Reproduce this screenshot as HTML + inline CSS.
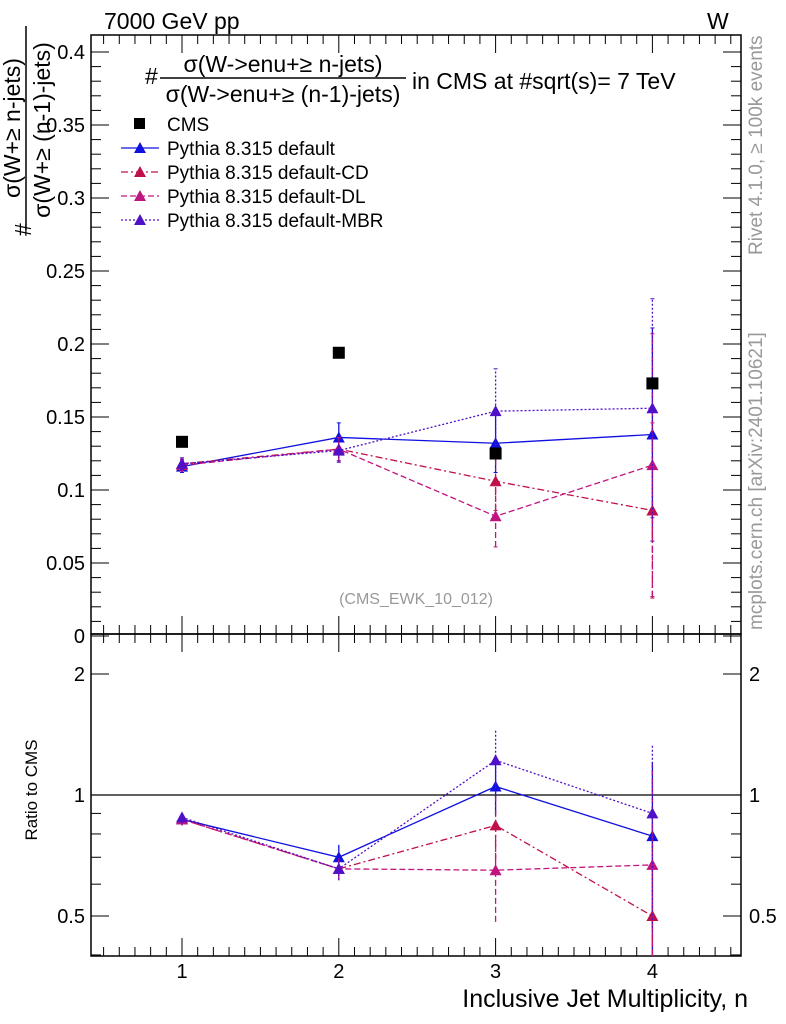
<!DOCTYPE html>
<html><head><meta charset="utf-8"><style>
body{margin:0;background:#fff}
svg{display:block;font-family:"Liberation Sans",sans-serif}
</style></head><body>
<svg id="c" width="786" height="1024" viewBox="0 0 786 1024">
<text x="104" y="29" font-size="23">7000 GeV pp</text>
<text x="707" y="29" font-size="23">W</text>
<text transform="translate(762,255) rotate(-90)" font-size="19" fill="#999">Rivet 4.1.0, ≥ 100k events</text>
<text transform="translate(762,630) rotate(-90)" font-size="19" fill="#999">mcplots.cern.ch [arXiv:2401.10621]</text>
<g font-size="23">
<text transform="translate(31,236) rotate(-90)">#</text>
<text transform="translate(20,128) rotate(-90)" text-anchor="middle">σ(W+≥ n-jets)</text>
<line x1="26" y1="26" x2="26" y2="230" stroke="#000" stroke-width="1.5"/>
<text transform="translate(50,130) rotate(-90)" text-anchor="middle">σ(W+≥ (n-1)-jets)</text>
</g>
<text transform="translate(37,790) rotate(-90)" font-size="17" text-anchor="middle">Ratio to CMS</text>
<text x="748" y="1007" font-size="25" text-anchor="end">Inclusive Jet Multiplicity, n</text>
<g font-size="23">
<text x="145" y="84">#</text>
<text x="283" y="72" text-anchor="middle">σ(W-&gt;enu+≥ n-jets)</text>
<line x1="160" y1="78" x2="406" y2="78" stroke="#000" stroke-width="1.5"/>
<text x="283" y="102" text-anchor="middle">σ(W-&gt;enu+≥ (n-1)-jets)</text>
<text x="412" y="89">in CMS at #sqrt(s)= 7 TeV</text>
</g>
<text x="416" y="604" font-size="16" fill="#999" text-anchor="middle">(CMS_EWK_10_012)</text>
<g id="g"></g>
</svg>
<script>
const cats=[1,2,3,4];
const cmsVals=[0.133,0.194,0.125,0.173];
const defVals=[0.116,0.136,0.132,0.138];
const defErr=[0.004,0.010,0.020,0.073];
const cdVals=[0.118,0.128,0.106,0.086];
const cdErr=[0.004,0.008,0.020,0.060];
const dlVals=[0.117,0.128,0.082,0.117];
const dlErr=[0.004,0.008,0.021,0.090];
const mbrVals=[0.118,0.127,0.154,0.156];
const mbrErr=[0.004,0.008,0.029,0.075];
const defRatio=[0.87,0.70,1.05,0.79];
const cdRatio=[0.87,0.655,0.84,0.50];
const dlRatio=[0.87,0.655,0.65,0.67];
const mbrRatio=[0.88,0.655,1.22,0.90];
const mainTicks=[0,0.05,0.1,0.15,0.2,0.25,0.3,0.35,0.4];
const mainTickLabels=["0","0.05","0.1","0.15","0.2","0.25","0.3","0.35","0.4"];
const ratioTicks=[0.5,1,2];
const ratioTickLabels=["0.5","1","2"];

const NS="http://www.w3.org/2000/svg",G=document.getElementById('g');
const L=91,R=741,T=35,M=634,B=956;
const xs=v=>182+(v-1)*156.8;
const ym=v=>636-v*1460;
const yr=v=>795-Math.log2(v)*121;
function el(t,a,n){const e=document.createElementNS(NS,t);for(const k in a)e.setAttribute(k,a[k]);


G.appendChild(e);return e;}
function ln(x1,y1,x2,y2,n,s,w,d){const e=el('line',{x1,y1,x2,y2,stroke:s||'#000','stroke-width':w||1},n);if(d)e.setAttribute('stroke-dasharray',d);return e;}
el('rect',{x:L,y:T,width:R-L,height:M-T,fill:'none',stroke:'#000','stroke-width':1.5},'main-frame');
el('rect',{x:L,y:M,width:R-L,height:B-M,fill:'none',stroke:'#000','stroke-width':1.5},'ratio-frame');
for(let v=0;v<=0.41;v+=0.01){const y=ym(v);if(y<T)break;const big=Math.round(v*100)%5==0;const l=big?18:10;
ln(L,y,L+l,y,'y-tick');ln(R,y,R-l,y,'y-tick');}
mainTicks.forEach((v,i)=>{const t=el('text',{x:L-6,y:ym(v)+7,'font-size':20,'text-anchor':'end'},'y-tick-label');t.textContent=mainTickLabels[i];});
[0.4,0.5,0.6,0.7,0.8,0.9,1,2].forEach(v=>{const y=yr(v);if(y>B||y<M)return;const big=ratioTicks.includes(v);const l=big?18:10;
ln(L,y,L+l,y,'ratio-y-tick');ln(R,y,R-l,y,'ratio-y-tick');});
ratioTicks.forEach((v,i)=>{const y=yr(v);const t=el('text',{x:L-6,y:y+7,'font-size':20,'text-anchor':'end'},'ratio-tick-label');t.textContent=ratioTickLabels[i];
const t2=el('text',{x:R+8,y:y+7,'font-size':20},'ratio-tick-label-right');t2.textContent=ratioTickLabels[i];});
for(let v=0.5;v<=4.55;v+=0.1){const x=xs(v);if(x<L+1)continue;const big=Math.abs(v-Math.round(v))<0.01;const l=big?18:9;
[M,B].forEach(yb=>{ln(x,yb,x,yb-l,'x-tick');});[T,M].forEach(yt=>ln(x,yt,x,yt+l,'x-tick'));}
cats.forEach(c=>{const t=el('text',{x:xs(c),y:978,'font-size':20,'text-anchor':'middle'},'x-tick-label');t.textContent=c;});
ln(L,yr(1),R,yr(1),'ratio-unity-line','#000',1.2);
const series=[
 {n:'default',v:defVals,e:defErr,r:defRatio,c:'#1010e0',d:null},
 {n:'cd',v:cdVals,e:cdErr,r:cdRatio,c:'#c0104a',d:'7,3,2,3'},
 {n:'dl',v:dlVals,e:dlErr,r:dlRatio,c:'#c01480',d:'6,3'},
 {n:'mbr',v:mbrVals,e:mbrErr,r:mbrRatio,c:'#5010c8',d:'2,2'}];
function tri(x,y,c,n){el('path',{d:`M${x},${y-6}L${x+6},${y+5}L${x-6},${y+5}Z`,fill:c},n);}
series.forEach(s=>{
 const pts=cats.map((c,i)=>xs(c)+','+ym(s.v[i])).join(' ');
 const p=el('polyline',{points:pts,fill:'none',stroke:s.c,'stroke-width':1.3},'line-'+s.n);if(s.d)p.setAttribute('stroke-dasharray',s.d);
 cats.forEach((c,i)=>{const x=xs(c);ln(x,ym(s.v[i]-s.e[i]),x,ym(s.v[i]+s.e[i]),'errbar-'+s.n,s.c,1.3,s.d);
  ln(x-2,ym(s.v[i]+s.e[i]),x+2,ym(s.v[i]+s.e[i]),'errcap-'+s.n,s.c);ln(x-2,ym(s.v[i]-s.e[i]),x+2,ym(s.v[i]-s.e[i]),'errcap-'+s.n,s.c);
  tri(x,ym(s.v[i]),s.c,'point-'+s.n);});
 const rp=cats.map((c,i)=>xs(c)+','+yr(s.r[i])).join(' ');
 const q=el('polyline',{points:rp,fill:'none',stroke:s.c,'stroke-width':1.3},'ratio-line-'+s.n);if(s.d)q.setAttribute('stroke-dasharray',s.d);
 cats.forEach((c,i)=>{const x=xs(c);const rel=s.e[i]/s.v[i];const lo=Math.max(s.r[i]*(1-rel),0.39),hi=s.r[i]*(1+rel);
  ln(x,Math.min(yr(lo),B),x,yr(hi),'ratio-errbar-'+s.n,s.c,1.3,s.d);
  tri(x,yr(s.r[i]),s.c,'ratio-point-'+s.n);});
});
cmsVals.forEach((v,i)=>el('rect',{x:xs(cats[i])-6,y:ym(v)-6,width:12,height:12,fill:'#000'},'cms-point'));
el('rect',{x:134,y:118,width:11,height:11,fill:'#000'},'legend-cms-marker');
const lt=el('text',{x:167,y:131,'font-size':19},'legend-cms');lt.textContent='CMS';
const names=['Pythia 8.315 default','Pythia 8.315 default-CD','Pythia 8.315 default-DL','Pythia 8.315 default-MBR'];
series.forEach((s,i)=>{const y=148+i*24;ln(121,y,159,y,'legend-line-'+s.n,s.c,1.3,s.d);tri(140,y,s.c,'legend-marker-'+s.n);
 const t=el('text',{x:167,y:y+7,'font-size':19},'legend-'+s.n);t.textContent=names[i];});
</script>
</body></html>
